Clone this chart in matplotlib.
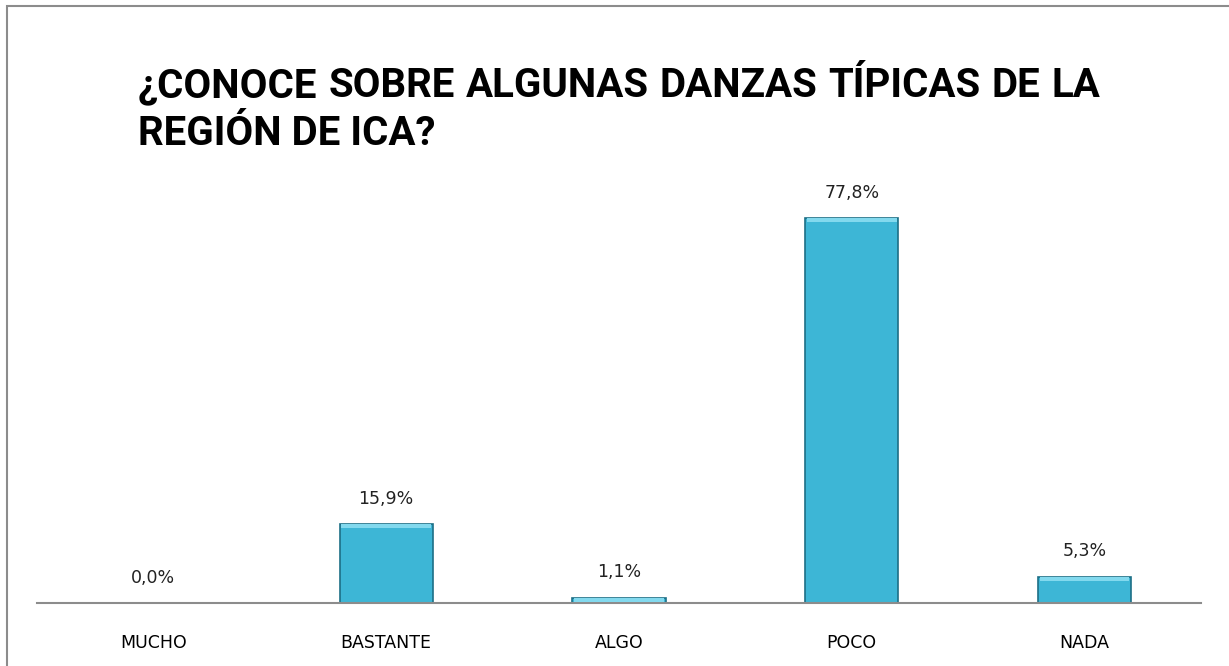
import matplotlib
matplotlib.use('Agg')
import matplotlib.pyplot as plt
from matplotlib.patches import Rectangle

categorias = ['MUCHO', 'BASTANTE', 'ALGO', 'POCO', 'NADA']
porcentajes = [0.0, 15.9, 1.1, 77.8, 5.3]
etiquetas = ['0,0%', '15,9%', '1,1%', '77,8%', '5,3%']
titulo_linea1 = '¿CONOCE SOBRE ALGUNAS DANZAS TÍPICAS DE LA'
titulo_linea2 = 'REGIÓN DE ICA?'

W, H = 1229, 666
fig = plt.figure(figsize=(W / 100, H / 100), dpi=100)
fig.patch.set_facecolor('white')
# marco gris alrededor del grafico
fig.add_artist(Rectangle((7 / W, -0.01), 1.2, 1 - 6 / H + 0.01, transform=fig.transFigure,
                         fill=False, edgecolor='#8c8c8c', linewidth=1.5))

ax = fig.add_axes([37 / W, 1 - 603 / H, 1164 / W, 445 / H])
x = list(range(len(categorias)))
ax.bar(x, porcentajes, width=0.4, color='#3db6d6', edgecolor='#1d6f86', linewidth=1.2, zorder=2)
# franja clara superior para imitar el bisel
ax.bar(x, [min(p, 0.8) for p in porcentajes], bottom=[max(p - 0.8, 0) for p in porcentajes],
       width=0.385, color='#82d9ee', linewidth=0, zorder=3)

for xi, p, t in zip(x, porcentajes, etiquetas):
    ax.text(xi, p + 3.3, t, ha='center', va='bottom', fontsize=12.5, family='DejaVu Sans', color='#222222')

ax.set_xlim(-0.5, len(categorias) - 0.5)
ax.set_ylim(0, 90)
ax.set_xticks(x)
ax.set_xticklabels(categorias, fontsize=12.5, family='DejaVu Sans')
ax.tick_params(axis='x', length=0, pad=22)
ax.set_yticks([])
for s in ['top', 'right', 'left']:
    ax.spines[s].set_visible(False)
ax.spines['bottom'].set_color('#8c8c8c')
ax.spines['bottom'].set_linewidth(1.5)

# titulo justificado: primera linea repartida entre x=138 y x=1100
fuente = ['Roboto', 'Liberation Sans', 'DejaVu Sans']
tam = 29
x0, x1 = 138, 1100
y1 = 1 - 97 / H
palabras = titulo_linea1.split()
renderer = fig.canvas.get_renderer()
textos = [fig.text(0, y1, w, ha='left', va='baseline', fontsize=tam, fontweight='bold', family=fuente)
          for w in palabras]
anchos = [t.get_window_extent(renderer).width for t in textos]
hueco = (x1 - x0 - sum(anchos)) / (len(palabras) - 1)
pos = x0
for t, a in zip(textos, anchos):
    t.set_x(pos / W)
    pos += a + hueco
fig.text(x0 / W, 1 - 145 / H, titulo_linea2, ha='left', va='baseline', fontsize=tam,
         fontweight='bold', family=fuente)

fig.savefig('out.png', dpi=100)
